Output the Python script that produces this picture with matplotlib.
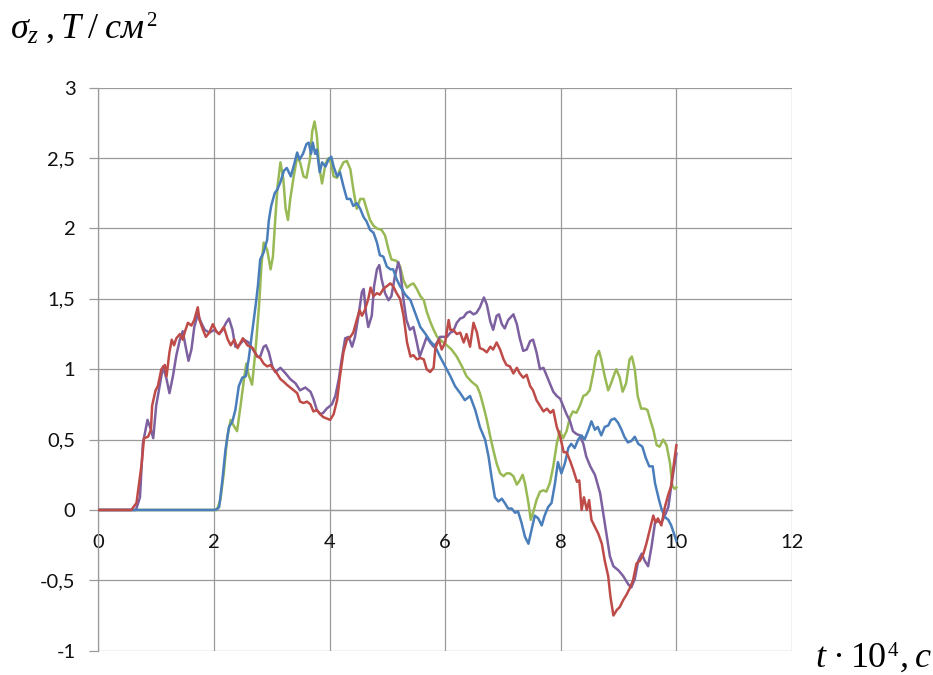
import matplotlib
matplotlib.use("Agg")
import matplotlib.pyplot as plt
from matplotlib.ticker import FixedLocator

# --- stress history sigma_z(t) for four points, t in units of 1e4 s ---
blue_t = [0, 2.0, 2.05, 2.09, 2.14, 2.20, 2.26, 2.32, 2.37, 2.43, 2.49, 2.55, 2.60, 2.66, 2.72, 2.76, 2.80, 2.86, 2.92, 2.95,
          2.99, 3.05, 3.10, 3.15, 3.21, 3.26, 3.33, 3.39, 3.44, 3.48, 3.54, 3.60, 3.64, 3.68, 3.71, 3.75, 3.78, 3.83, 3.87, 3.93,
          3.98, 4.03, 4.07, 4.13, 4.18, 4.24, 4.30, 4.36, 4.41, 4.47, 4.53, 4.59, 4.64, 4.70, 4.76, 4.82, 4.87, 4.93, 4.99, 5.05,
          5.10, 5.16, 5.22, 5.31, 5.40, 5.48, 5.57, 5.66, 5.74, 5.83, 5.91, 6.00, 6.09, 6.17, 6.26, 6.34, 6.43, 6.52, 6.60, 6.69,
          6.75, 6.80, 6.86, 6.92, 6.98, 7.03, 7.09, 7.15, 7.21, 7.26, 7.32, 7.38, 7.44, 7.49, 7.55, 7.61, 7.67, 7.72, 7.78, 7.84,
          7.90, 7.95, 8.01, 8.07, 8.13, 8.18, 8.24, 8.30, 8.36, 8.41, 8.47, 8.53, 8.59, 8.64, 8.70, 8.76, 8.82, 8.87, 8.93, 8.99,
          9.05, 9.10, 9.16, 9.22, 9.28, 9.34, 9.41, 9.47, 9.53, 9.59, 9.63, 9.67, 9.70, 9.74, 9.80, 9.86, 9.91, 9.96, 10.0]
blue_s = [0, 0, 0.005, 0.02, 0.19, 0.43, 0.59, 0.63, 0.71, 0.88, 0.94, 0.95, 1.07, 1.26, 1.45, 1.59, 1.78, 1.83, 1.92, 2.06,
          2.16, 2.25, 2.28, 2.33, 2.41, 2.43, 2.37, 2.46, 2.54, 2.49, 2.53, 2.60, 2.61, 2.53, 2.61, 2.53, 2.56, 2.40, 2.47, 2.44,
          2.49, 2.51, 2.44, 2.37, 2.40, 2.30, 2.21, 2.21, 2.16, 2.18, 2.14, 2.08, 2.05, 1.99, 1.97, 1.90, 1.81, 1.80, 1.73, 1.71,
          1.71, 1.64, 1.59, 1.53, 1.49, 1.40, 1.30, 1.25, 1.20, 1.16, 1.09, 1.02, 0.95, 0.88, 0.83, 0.78, 0.81, 0.71, 0.59, 0.50,
          0.38, 0.24, 0.09, 0.06, 0.08, 0.05, 0.01, 0.01, -0.02, -0.01, -0.09, -0.19, -0.24, -0.15, -0.04, -0.06, -0.11, -0.04, 0.02, 0.05,
          0.19, 0.34, 0.26, 0.33, 0.44, 0.47, 0.44, 0.50, 0.53, 0.50, 0.56, 0.63, 0.57, 0.59, 0.53, 0.59, 0.60, 0.64, 0.65, 0.62,
          0.57, 0.52, 0.48, 0.49, 0.52, 0.47, 0.45, 0.37, 0.31, 0.31, 0.19, 0.12, 0.07, 0.01, -0.05, -0.07, -0.11, -0.17, -0.22]

green_t = [0, 2.05, 2.11, 2.17, 2.23, 2.29, 2.34, 2.40, 2.46, 2.52, 2.56, 2.60, 2.66, 2.72, 2.78, 2.82, 2.86, 2.92, 2.98, 3.02,
           3.06, 3.10, 3.15, 3.20, 3.24, 3.28, 3.32, 3.38, 3.44, 3.49, 3.55, 3.60, 3.66, 3.70, 3.74, 3.78, 3.82, 3.87, 3.93, 3.98,
           4.03, 4.07, 4.13, 4.18, 4.24, 4.30, 4.36, 4.41, 4.47, 4.53, 4.59, 4.64, 4.70, 4.76, 4.82, 4.90, 4.96, 5.02, 5.07, 5.16,
           5.22, 5.28, 5.34, 5.40, 5.45, 5.51, 5.57, 5.63, 5.68, 5.74, 5.80, 5.86, 5.94, 6.03, 6.11, 6.20, 6.29, 6.37, 6.46, 6.55,
           6.60, 6.66, 6.72, 6.78, 6.83, 6.89, 6.95, 7.01, 7.06, 7.12, 7.18, 7.24, 7.29, 7.34, 7.38, 7.44, 7.48, 7.52, 7.58, 7.64,
           7.70, 7.75, 7.81, 7.87, 7.93, 7.98, 8.04, 8.10, 8.16, 8.21, 8.27, 8.33, 8.39, 8.44, 8.50, 8.56, 8.61, 8.66, 8.70, 8.76,
           8.82, 8.87, 8.93, 8.96, 9.02, 9.07, 9.13, 9.19, 9.23, 9.28, 9.33, 9.39, 9.45, 9.50, 9.54, 9.60, 9.66, 9.71, 9.77, 9.83,
           9.89, 9.93, 9.97, 10.0]
green_s = [0, 0, 0.07, 0.26, 0.52, 0.64, 0.60, 0.56, 0.74, 0.93, 1.04, 0.96, 0.89, 1.14, 1.45, 1.73, 1.90, 1.85, 1.71, 1.80,
           2.06, 2.30, 2.47, 2.35, 2.14, 2.06, 2.21, 2.37, 2.51, 2.47, 2.37, 2.36, 2.49, 2.69, 2.76, 2.66, 2.44, 2.32, 2.46, 2.50,
           2.46, 2.37, 2.36, 2.42, 2.47, 2.48, 2.42, 2.28, 2.14, 2.21, 2.21, 2.14, 2.06, 2.02, 2.00, 1.99, 1.95, 1.85, 1.78, 1.77,
           1.73, 1.63, 1.58, 1.60, 1.61, 1.57, 1.52, 1.49, 1.41, 1.34, 1.28, 1.23, 1.20, 1.17, 1.14, 1.09, 1.02, 0.95, 0.91, 0.88,
           0.83, 0.74, 0.64, 0.52, 0.43, 0.33, 0.26, 0.24, 0.26, 0.26, 0.24, 0.18, 0.21, 0.25, 0.19, 0.05, -0.07, -0.02, 0.07, 0.13,
           0.14, 0.13, 0.19, 0.31, 0.47, 0.56, 0.51, 0.56, 0.66, 0.70, 0.69, 0.74, 0.81, 0.82, 0.85, 0.97, 1.09, 1.13, 1.07, 0.95,
           0.85, 0.90, 0.97, 1.00, 0.94, 0.84, 0.90, 1.07, 1.09, 1.00, 0.81, 0.72, 0.72, 0.71, 0.65, 0.57, 0.46, 0.45, 0.50, 0.46,
           0.33, 0.17, 0.15, 0.16]

red_t = [0, 0.57, 0.66, 0.75, 0.79, 0.86, 0.91, 0.93, 0.99, 1.03, 1.09, 1.15, 1.18, 1.23, 1.27, 1.31, 1.35, 1.41, 1.46, 1.50,
         1.55, 1.61, 1.66, 1.72, 1.75, 1.81, 1.86, 1.92, 1.98, 2.04, 2.09, 2.17, 2.24, 2.29, 2.35, 2.41, 2.50, 2.58, 2.67, 2.75,
         2.80, 2.86, 2.92, 2.98, 3.03, 3.09, 3.15, 3.21, 3.26, 3.32, 3.38, 3.44, 3.49, 3.55, 3.61, 3.67, 3.72, 3.78, 3.84, 3.89,
         3.95, 4.01, 4.07, 4.13, 4.18, 4.24, 4.30, 4.36, 4.41, 4.47, 4.52, 4.56, 4.61, 4.67, 4.71, 4.76, 4.82, 4.87, 4.93, 4.99,
         5.05, 5.10, 5.16, 5.22, 5.28, 5.34, 5.40, 5.45, 5.51, 5.57, 5.63, 5.68, 5.74, 5.80, 5.83, 5.89, 5.94, 6.00, 6.06, 6.09,
         6.14, 6.20, 6.26, 6.32, 6.37, 6.43, 6.49, 6.55, 6.60, 6.66, 6.72, 6.78, 6.83, 6.89, 6.95, 7.01, 7.06, 7.12, 7.18, 7.24,
         7.29, 7.35, 7.41, 7.47, 7.52, 7.58, 7.64, 7.70, 7.76, 7.82, 7.87, 7.93, 7.99, 8.05, 8.10, 8.16, 8.22, 8.28, 8.32, 8.36,
         8.40, 8.45, 8.49, 8.53, 8.59, 8.65, 8.71, 8.76, 8.82, 8.86, 8.91, 8.97, 9.02, 9.08, 9.14, 9.20, 9.25, 9.31, 9.37, 9.43,
         9.48, 9.54, 9.60, 9.64, 9.68, 9.74, 9.80, 9.86, 9.91, 9.95, 10.0]
red_s = [0, 0, 0.05, 0.33, 0.51, 0.52, 0.57, 0.74, 0.85, 0.88, 1.00, 1.03, 0.95, 1.12, 1.21, 1.17, 1.22, 1.25, 1.21, 1.27,
         1.33, 1.31, 1.35, 1.44, 1.35, 1.28, 1.23, 1.26, 1.32, 1.27, 1.25, 1.30, 1.21, 1.17, 1.21, 1.15, 1.22, 1.17, 1.15, 1.09,
         1.08, 1.04, 1.02, 1.03, 1.00, 0.97, 0.93, 0.91, 0.89, 0.87, 0.85, 0.83, 0.77, 0.76, 0.77, 0.75, 0.70, 0.71, 0.68, 0.66,
         0.65, 0.64, 0.68, 0.78, 0.95, 1.12, 1.21, 1.23, 1.26, 1.35, 1.42, 1.38, 1.42, 1.50, 1.58, 1.52, 1.54, 1.53, 1.57, 1.59,
         1.61, 1.59, 1.54, 1.50, 1.38, 1.19, 1.09, 1.10, 1.07, 1.08, 1.07, 1.00, 0.98, 1.01, 1.15, 1.21, 1.14, 1.19, 1.35, 1.28,
         1.28, 1.25, 1.26, 1.19, 1.25, 1.16, 1.33, 1.26, 1.15, 1.14, 1.12, 1.16, 1.14, 1.19, 1.14, 1.07, 1.03, 1.02, 0.97, 1.01,
         0.97, 0.94, 0.96, 0.88, 0.85, 0.78, 0.74, 0.70, 0.72, 0.69, 0.71, 0.59, 0.52, 0.41, 0.41, 0.35, 0.28, 0.20, 0.21, 0.00,
         0.09, 0.00, 0.07, -0.07, -0.12, -0.17, -0.24, -0.36, -0.47, -0.62, -0.75, -0.71, -0.69, -0.64, -0.60, -0.55, -0.50, -0.38, -0.36, -0.31,
         -0.24, -0.14, -0.04, -0.09, -0.06, -0.11, 0.02, 0.11, 0.17, 0.31, 0.46]

purple_t = [0, 0.65, 0.72, 0.77, 0.85, 0.91, 0.95, 1.00, 1.06, 1.12, 1.18, 1.23, 1.29, 1.35, 1.41, 1.46, 1.52, 1.56, 1.61, 1.66,
            1.72, 1.78, 1.84, 1.92, 2.01, 2.09, 2.15, 2.21, 2.26, 2.32, 2.37, 2.43, 2.52, 2.60, 2.66, 2.75, 2.80, 2.86, 2.90, 2.95,
            3.01, 3.06, 3.15, 3.24, 3.32, 3.41, 3.49, 3.58, 3.67, 3.72, 3.78, 3.84, 3.89, 3.95, 4.04, 4.10, 4.16, 4.21, 4.27, 4.33,
            4.39, 4.44, 4.50, 4.56, 4.59, 4.63, 4.67, 4.73, 4.77, 4.82, 4.86, 4.90, 4.96, 5.02, 5.07, 5.13, 5.19, 5.22, 5.28, 5.33,
            5.39, 5.45, 5.51, 5.56, 5.62, 5.68, 5.74, 5.80, 5.86, 5.91, 5.97, 6.03, 6.09, 6.14, 6.20, 6.26, 6.32, 6.37, 6.43, 6.49,
            6.54, 6.60, 6.63, 6.67, 6.72, 6.78, 6.83, 6.89, 6.93, 6.98, 7.03, 7.09, 7.18, 7.24, 7.29, 7.35, 7.41, 7.47, 7.52, 7.58,
            7.64, 7.70, 7.75, 7.81, 7.87, 7.93, 7.99, 8.04, 8.10, 8.16, 8.21, 8.27, 8.33, 8.39, 8.44, 8.51, 8.59, 8.68, 8.76, 8.85,
            8.91, 9.00, 9.08, 9.17, 9.22, 9.28, 9.34, 9.40, 9.45, 9.51, 9.57, 9.63, 9.68, 9.74, 9.80, 9.86, 9.91, 9.97, 10.0]
purple_s = [0, 0, 0.09, 0.47, 0.64, 0.57, 0.51, 0.74, 0.88, 1.02, 0.93, 0.83, 0.95, 1.10, 1.21, 1.27, 1.14, 1.06, 1.14, 1.30,
            1.39, 1.33, 1.28, 1.26, 1.28, 1.25, 1.28, 1.33, 1.36, 1.28, 1.16, 1.17, 1.21, 1.19, 1.15, 1.09, 1.09, 1.16, 1.17, 1.12,
            1.02, 0.98, 1.01, 0.97, 0.93, 0.90, 0.85, 0.87, 0.84, 0.79, 0.71, 0.68, 0.69, 0.72, 0.75, 0.81, 0.93, 1.07, 1.22, 1.23,
            1.16, 1.23, 1.38, 1.55, 1.57, 1.40, 1.30, 1.38, 1.59, 1.71, 1.74, 1.64, 1.54, 1.49, 1.52, 1.66, 1.76, 1.71, 1.49, 1.35,
            1.28, 1.30, 1.19, 1.09, 1.16, 1.23, 1.19, 1.16, 1.19, 1.23, 1.23, 1.23, 1.26, 1.27, 1.33, 1.36, 1.37, 1.40, 1.41, 1.39,
            1.40, 1.44, 1.47, 1.51, 1.46, 1.34, 1.28, 1.38, 1.39, 1.32, 1.29, 1.35, 1.39, 1.32, 1.22, 1.13, 1.14, 1.20, 1.21, 1.12,
            1.00, 1.01, 0.96, 0.90, 0.84, 0.81, 0.79, 0.74, 0.68, 0.63, 0.56, 0.54, 0.53, 0.47, 0.38, 0.31, 0.25, 0.12, -0.09, -0.33,
            -0.40, -0.43, -0.47, -0.53, -0.55, -0.49, -0.36, -0.31, -0.36, -0.40, -0.26, -0.09, -0.08, -0.09, -0.04, 0.02, 0.17, 0.33, 0.40]

x_ticks = [0, 2, 4, 6, 8, 10, 12]
x_tick_labels = ["0", "2", "4", "6", "8", "10", "12"]
y_ticks = [-1, -0.5, 0, 0.5, 1, 1.5, 2, 2.5, 3]
y_tick_labels = ["-1", "-0,5", "0", "0,5", "1", "1,5", "2", "2,5", "3"]

BLUE = "#4A7EBB"
RED = "#BE4B48"
GREEN = "#98B954"
PURPLE = "#7D60A0"
GRID = "#9A9A9A"

plt.rcParams["mathtext.fontset"] = "custom"
plt.rcParams["mathtext.rm"] = "Liberation Serif"
plt.rcParams["mathtext.it"] = "Liberation Serif:italic"

W, H = 933, 675
fig = plt.figure(figsize=(W / 100, H / 100), dpi=100)
ax = fig.add_axes([0.1054, 0.036, 0.7435, 0.834])

lw = 1.8
ax.plot(green_t, green_s, color=GREEN, lw=lw, zorder=3)
ax.plot(purple_t, purple_s, color=PURPLE, lw=lw, zorder=4)
ax.plot(blue_t, blue_s, color=BLUE, lw=lw, zorder=5)
ax.plot(red_t, red_s, color=RED, lw=lw, zorder=6)

ax.set_xlim(0, 12)
ax.set_ylim(-1, 3)
ax.xaxis.set_major_locator(FixedLocator(x_ticks))
ax.yaxis.set_major_locator(FixedLocator(y_ticks))
ax.set_xticklabels(x_tick_labels)
ax.set_yticklabels(y_tick_labels)

ax.grid(True, color=GRID, lw=0.9, zorder=0)
ax.set_axisbelow(True)

for side in ("top", "right"):
    ax.spines[side].set_visible(False)
ax.spines["left"].set_color(GRID)
ax.spines["left"].set_linewidth(0.9)
ax.spines["bottom"].set_position(("data", 0))
ax.spines["bottom"].set_color(GRID)
ax.spines["bottom"].set_linewidth(0.9)

for lab in ax.get_xticklabels() + ax.get_yticklabels():
    lab.set_fontfamily("Lato")
    lab.set_fontsize(14.5)
    lab.set_color("#111111")
ax.tick_params(axis="x", length=0, pad=17)
ax.tick_params(axis="y", length=6.5, width=0.9, color=GRID, pad=10)

SERIF = dict(family="Liberation Serif")
SERIF_IT = dict(family="Liberation Serif", style="italic")


def caption(x_px, base_px, pieces):
    """Write a run of text pieces left to right; each piece is (text, size, rise_px, gap_px, font)."""
    renderer = fig.canvas.get_renderer()
    x = x_px
    for text, size, rise, gap, font in pieces:
        x += gap
        t = fig.text(x / W, 1 - (base_px - rise) / H, text, fontsize=size,
                     va="baseline", ha="left", **font)
        x = t.get_window_extent(renderer).x1


caption(10, 38, [(r"$\sigma_{z}\;,T\;/\;см$", 26, 0, 0, {}), ("2", 15, 12, 1, SERIF)])
caption(815, 667, [("t", 26, 0, 0, SERIF_IT), ("·", 26, 0, 7, SERIF), ("10", 26, 0, 7, SERIF),
                   ("4", 15, 11, 1, SERIF), (",", 26, 0, 1, SERIF_IT), ("c", 26, 0, 6, SERIF_IT)])

fig.savefig("out.png", dpi=100)
